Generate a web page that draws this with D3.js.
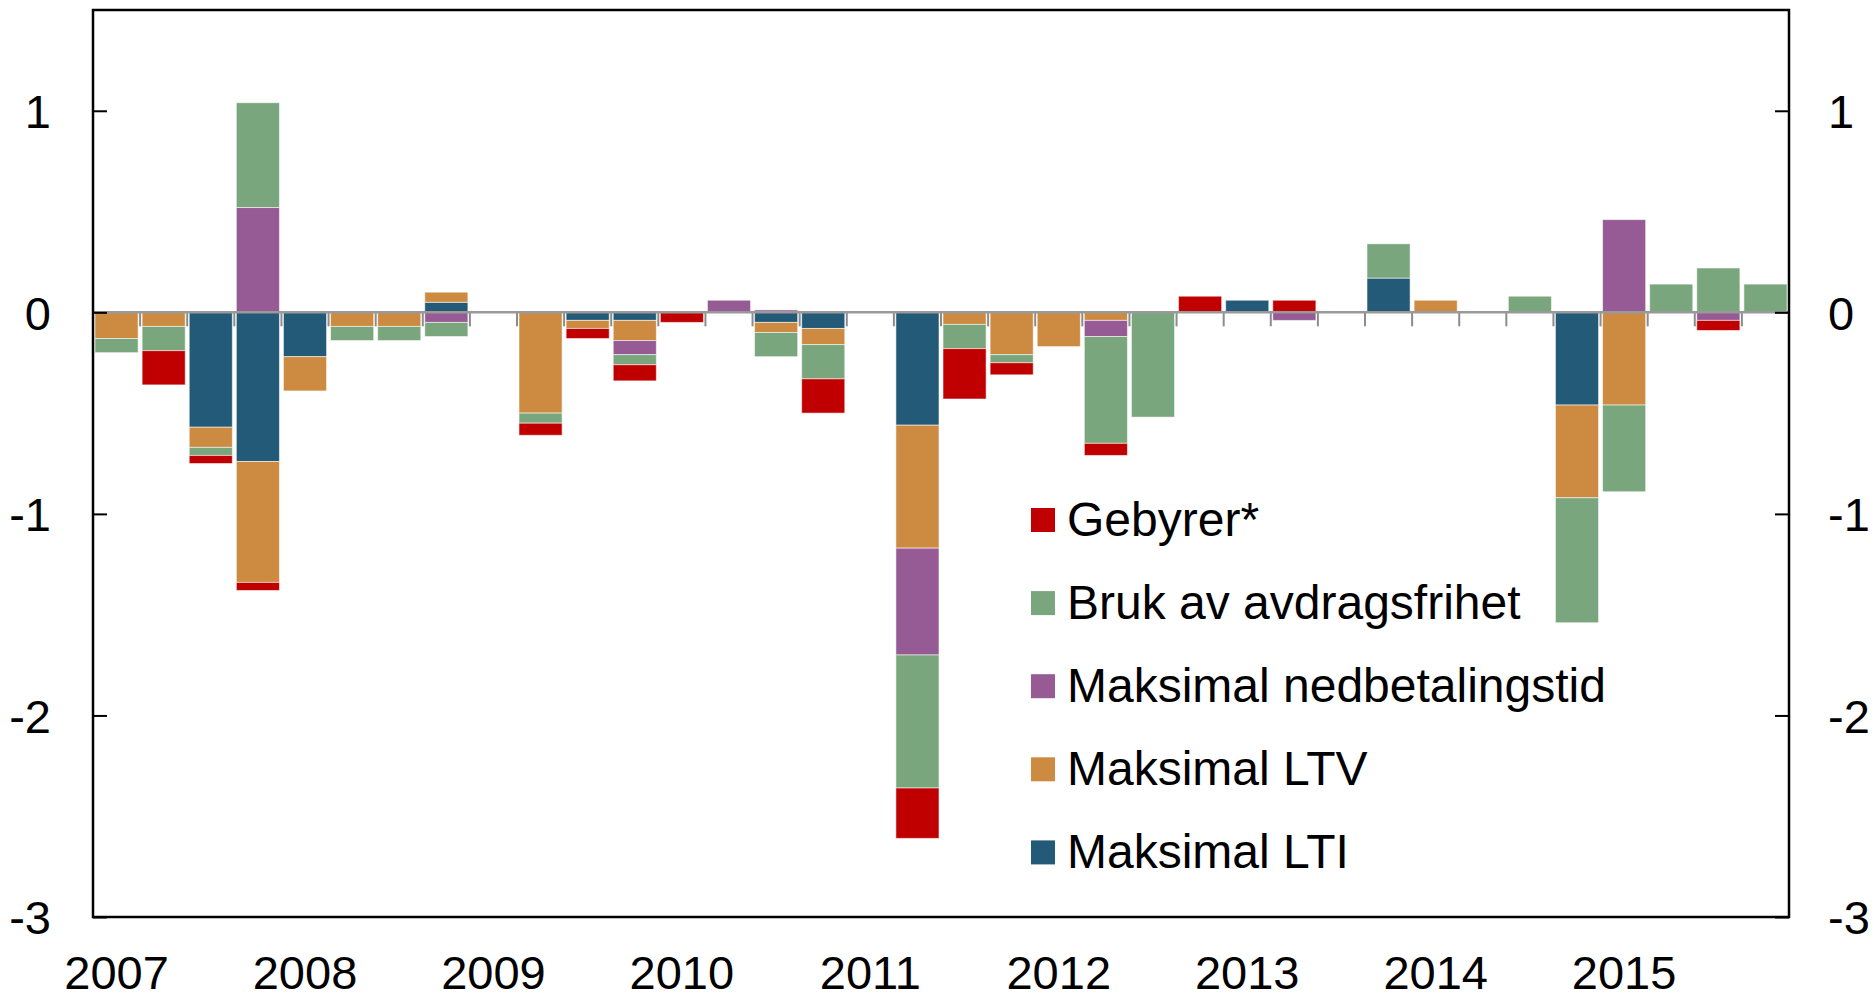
<!DOCTYPE html>
<html>
<head>
<meta charset="utf-8">
<script src="https://cdn.jsdelivr.net/npm/d3@7"></script>
<style>
  body { margin: 0; background: #fff; }
  svg { display: block; font-family: "Liberation Sans", Arial, sans-serif; }
</style>
</head>
<body>
<svg id="chart" width="1874" height="1001"></svg>
<script>
// Quarters 2007Q1 - 2015Q4
const years = [2007, 2008, 2009, 2010, 2011, 2012, 2013, 2014, 2015];
const quarters = years.flatMap((y) => ["Q1", "Q2", "Q3", "Q4"].map((q) => y + q));

// Series values, one per quarter (percentage points)
const maksLTI = [
  0, 0, -0.57, -0.74, -0.22, 0, 0, 0.05, 0, 0, -0.04, -0.04,
  0, 0, -0.05, -0.08, 0, -0.56, 0, 0, 0, 0, 0, 0,
  0.06, 0, 0, 0.17, 0, 0, 0, -0.46, 0, 0, 0, 0,
];
const maksLTV = [
  -0.13, -0.07, -0.10, -0.60, -0.17, -0.07, -0.07, 0.05, 0, -0.50, -0.04, -0.10,
  0, 0, -0.05, -0.08, 0, -0.61, -0.06, -0.21, -0.17, -0.04, 0, 0,
  0, 0, 0, 0, 0.06, 0, 0, -0.46, -0.46, 0, 0, 0,
];
const maksNedbetaling = [
  0, 0, 0, 0.52, 0, 0, 0, -0.05, 0, 0, 0, -0.07,
  0, 0.06, 0.012, 0, 0, -0.53, 0, 0, 0, -0.08, 0, 0,
  0, -0.04, 0, 0, 0, 0, 0, 0, 0.46, 0, -0.04, 0,
];
const brukAvdragsfrihet = [
  -0.07, -0.12, -0.04, 0.52, 0, -0.07, -0.07, -0.07, 0, -0.05, 0, -0.05,
  0, 0, -0.12, -0.17, 0, -0.66, -0.12, -0.04, 0, -0.53, -0.52, 0,
  0, 0, 0, 0.17, 0, 0, 0.08, -0.62, -0.43, 0.14, 0.22, 0.14,
];
const gebyrer = [
  0, -0.17, -0.04, -0.04, 0, 0, 0, 0, 0, -0.06, -0.05, -0.08,
  -0.05, 0, 0, -0.17, 0, -0.25, -0.25, -0.06, 0, -0.06, 0, 0.08,
  0, 0.06, 0, 0, 0, 0, 0, 0, 0, 0, -0.05, 0,
];

const seriesKeys = ["lti", "ltv", "ned", "bruk", "geb"];
const seriesNames = {
  geb: "Gebyrer*",
  bruk: "Bruk av avdragsfrihet",
  ned: "Maksimal nedbetalingstid",
  ltv: "Maksimal LTV",
  lti: "Maksimal LTI",
};
const colors = {
  lti: "#225a78",
  ltv: "#cd8b42",
  ned: "#965a94",
  bruk: "#79a67c",
  geb: "#c00000",
};
const yTicks = [1, 0, -1, -2, -3];

const rows = quarters.map((q, i) => ({
  q,
  lti: maksLTI[i],
  ltv: maksLTV[i],
  ned: maksNedbetaling[i],
  bruk: brukAvdragsfrihet[i],
  geb: gebyrer[i],
}));

const plot = { left: 93, right: 1789, top: 10, bottom: 917 };
const fontSize = 47;

const svg = d3.select("#chart");

const x = d3
  .scaleBand()
  .domain(quarters)
  .range([plot.left, plot.right])
  .paddingInner(0.085)
  .paddingOuter(0.0425);

const y = d3.scaleLinear().domain([-3, 1.5]).range([plot.bottom, plot.top]);

const stacked = d3
  .stack()
  .keys(seriesKeys)
  .offset(d3.stackOffsetDiverging)(rows);

// Quarter ticks hanging from the zero line
const gap = (x.step() - x.bandwidth()) / 2;
const boundaries = quarters.map((q) => x(q) - gap).concat([plot.right]);
svg
  .append("g")
  .selectAll("line")
  .data(boundaries)
  .join("line")
  .attr("x1", (d) => d)
  .attr("x2", (d) => d)
  .attr("y1", y(0))
  .attr("y2", y(0) + 14)
  .attr("stroke", "#8c8c8c")
  .attr("stroke-width", 2);

// Bars
svg
  .append("g")
  .selectAll("g")
  .data(stacked)
  .join("g")
  .attr("fill", (s) => colors[s.key])
  .selectAll("rect")
  .data((s) => s.filter((d) => d[1] - d[0] !== 0))
  .join("rect")
  .attr("x", (d) => x(d.data.q))
  .attr("width", x.bandwidth())
  .attr("y", (d) => y(Math.max(d[0], d[1])))
  .attr("height", (d) => Math.abs(y(d[0]) - y(d[1])))
  .attr("stroke", "#ffffff")
  .attr("stroke-opacity", 0.55)
  .attr("stroke-width", 1);

// Zero line
svg
  .append("line")
  .attr("x1", plot.left)
  .attr("x2", plot.right)
  .attr("y1", y(0))
  .attr("y2", y(0))
  .attr("stroke", "#999999")
  .attr("stroke-width", 2.5);

// Y axes, ticks pointing inward
const leftAxis = d3.axisLeft(y).tickValues(yTicks).tickSize(-14).tickPadding(42).tickFormat(d3.format("d"));
const rightAxis = d3.axisRight(y).tickValues(yTicks).tickSize(-14).tickPadding(39).tickFormat(d3.format("d"));

[
  [leftAxis, plot.left],
  [rightAxis, plot.right],
].forEach(([axis, pos]) => {
  const g = svg.append("g").attr("transform", `translate(${pos},0)`).call(axis);
  g.select(".domain").remove();
  g.selectAll("line").attr("stroke", "#000").attr("stroke-width", 2);
  g.selectAll("text")
    .attr("font-size", fontSize)
    .attr("font-family", "Liberation Sans, Arial, sans-serif")
    .attr("fill", "#000")
    .attr("dy", "0.36em")
    .text((d) => (d < 0 ? "-" + Math.abs(d) : d));
});

// Frame
svg
  .append("rect")
  .attr("x", plot.left)
  .attr("y", plot.top)
  .attr("width", plot.right - plot.left)
  .attr("height", plot.bottom - plot.top)
  .attr("fill", "none")
  .attr("stroke", "#000")
  .attr("stroke-width", 2.5);

// Year labels under first quarter of each year
svg
  .append("g")
  .selectAll("text")
  .data(years)
  .join("text")
  .attr("x", (d) => x(d + "Q1") + x.bandwidth() / 2)
  .attr("y", 989)
  .attr("text-anchor", "middle")
  .attr("font-size", fontSize)
  .text((d) => d);

// Legend
const legendKeys = seriesKeys.slice().reverse();
const legend = svg
  .append("g")
  .selectAll("g")
  .data(legendKeys)
  .join("g")
  .attr("transform", (d, i) => `translate(1031,${520 + i * 83.1})`);

legend
  .append("rect")
  .attr("x", 0)
  .attr("y", -12)
  .attr("width", 24)
  .attr("height", 24)
  .attr("fill", (d) => colors[d]);

legend
  .append("text")
  .attr("x", 36)
  .attr("y", 16)
  .attr("font-size", 48)
  .text((d) => seriesNames[d]);
</script>
</body>
</html>
